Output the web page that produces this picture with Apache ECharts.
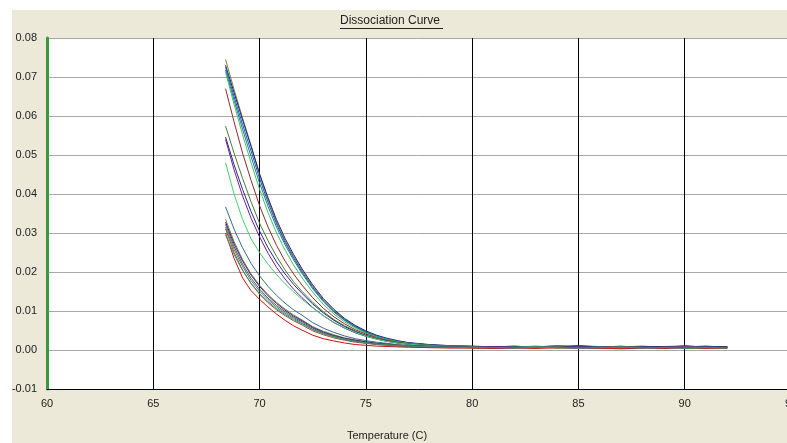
<!DOCTYPE html>
<html><head><meta charset="utf-8">
<script src="https://cdn.jsdelivr.net/npm/echarts@6/dist/echarts.min.js"></script>
<style>html,body{margin:0;padding:0;background:#fff}#c{width:787px;height:443px}</style>
</head><body><div id="c"></div>
<script>
const temps = [68.4,68.8,69.2,69.6,70.0,70.4,70.8,71.2,71.6,72.0,72.5,73.0,73.5,74.0,74.5,75.0,75.5,76.0,76.5,77,78,79,80,81,82,83,84,85,86,87,88,89,90,91,92];
const xTicks = [60,65,70,75,80,85,90,95];
const yTicks = [-0.01,0.00,0.01,0.02,0.03,0.04,0.05,0.06,0.07,0.08];

const h1 = [0.0745,0.0668,0.0595,0.0525,0.0450,0.0385,0.0328,0.0280,0.0240,0.0204,0.0163,0.0129,0.0101,0.0079,0.0061,0.0047,0.0036,0.0028,0.0022,0.0018,0.0013,0.0011,0.0009,0.0009,0.0008,0.0010,0.0007,0.0008,0.0009,0.0006,0.0008,0.0007,0.0009,0.0008,0.0006];
const h2 = [0.0730,0.0660,0.0590,0.0522,0.0452,0.0390,0.0334,0.0286,0.0245,0.0208,0.0167,0.0132,0.0104,0.0081,0.0063,0.0049,0.0038,0.0030,0.0024,0.0019,0.0014,0.0011,0.0010,0.0008,0.0010,0.0007,0.0009,0.0011,0.0008,0.0007,0.0009,0.0006,0.0008,0.0010,0.0007];
const h3 = [0.0725,0.0650,0.0578,0.0510,0.0440,0.0378,0.0323,0.0276,0.0236,0.0200,0.0160,0.0126,0.0099,0.0077,0.0060,0.0046,0.0036,0.0028,0.0022,0.0018,0.0013,0.0010,0.0009,0.0007,0.0009,0.0008,0.0011,0.0008,0.0007,0.0010,0.0006,0.0009,0.0007,0.0009,0.0008];
const h4 = [0.0718,0.0640,0.0566,0.0496,0.0428,0.0368,0.0315,0.0270,0.0231,0.0196,0.0157,0.0124,0.0097,0.0076,0.0059,0.0045,0.0035,0.0027,0.0021,0.0017,0.0012,0.0010,0.0009,0.0008,0.0007,0.0009,0.0008,0.0010,0.0007,0.0008,0.0010,0.0007,0.0008,0.0007,0.0008];
const h5 = [0.0712,0.0630,0.0552,0.0480,0.0412,0.0352,0.0300,0.0256,0.0218,0.0185,0.0148,0.0117,0.0092,0.0072,0.0056,0.0043,0.0034,0.0027,0.0021,0.0017,0.0012,0.0010,0.0009,0.0007,0.0006,0.0008,0.0010,0.0006,0.0009,0.0007,0.0005,0.0008,0.0006,0.0008,0.0007];
const h6 = [0.0670,0.0585,0.0505,0.0435,0.0370,0.0315,0.0268,0.0228,0.0195,0.0166,0.0134,0.0107,0.0085,0.0067,0.0052,0.0041,0.0032,0.0025,0.0020,0.0016,0.0012,0.0010,0.0008,0.0006,0.0008,0.0007,0.0006,0.0009,0.0006,0.0004,0.0007,0.0008,0.0005,0.0007,0.0006];
const m1 = [0.0574,0.0505,0.0440,0.0380,0.0325,0.0280,0.0240,0.0205,0.0175,0.0150,0.0122,0.0098,0.0078,0.0062,0.0049,0.0038,0.0030,0.0024,0.0019,0.0016,0.0012,0.0010,0.0009,0.0008,0.0007,0.0006,0.0009,0.0007,0.0008,0.0006,0.0009,0.0005,0.0007,0.0006,0.0007];
const m2 = [0.0546,0.0475,0.0412,0.0355,0.0305,0.0262,0.0226,0.0195,0.0168,0.0145,0.0118,0.0095,0.0076,0.0060,0.0047,0.0037,0.0029,0.0023,0.0018,0.0015,0.0011,0.0009,0.0008,0.0007,0.0009,0.0008,0.0007,0.0010,0.0009,0.0008,0.0007,0.0009,0.0010,0.0008,0.0007];
const m3 = [0.0540,0.0462,0.0395,0.0338,0.0290,0.0248,0.0212,0.0182,0.0156,0.0134,0.0109,0.0088,0.0070,0.0056,0.0044,0.0035,0.0028,0.0022,0.0018,0.0015,0.0011,0.0009,0.0008,0.0009,0.0007,0.0008,0.0010,0.0008,0.0006,0.0009,0.0008,0.0006,0.0011,0.0007,0.0008];
const m4 = [0.0480,0.0400,0.0335,0.0285,0.0250,0.0220,0.0193,0.0170,0.0149,0.0130,0.0108,0.0088,0.0071,0.0057,0.0045,0.0036,0.0028,0.0022,0.0018,0.0015,0.0011,0.0009,0.0008,0.0006,0.0008,0.0009,0.0006,0.0007,0.0008,0.0005,0.0006,0.0007,0.0005,0.0006,0.0005];
const l1 = [0.0367,0.0310,0.0262,0.0222,0.0190,0.0163,0.0140,0.0120,0.0103,0.0089,0.0070,0.0056,0.0045,0.0036,0.0029,0.0024,0.0020,0.0017,0.0014,0.0012,0.0010,0.0008,0.0007,0.0007,0.0006,0.0008,0.0007,0.0006,0.0008,0.0007,0.0006,0.0008,0.0007,0.0009,0.0006];
const l2 = [0.0335,0.0278,0.0232,0.0195,0.0166,0.0142,0.0122,0.0105,0.0090,0.0077,0.0060,0.0048,0.0039,0.0031,0.0026,0.0021,0.0018,0.0015,0.0013,0.0011,0.0009,0.0008,0.0007,0.0006,0.0007,0.0005,0.0008,0.0006,0.0007,0.0009,0.0006,0.0005,0.0008,0.0006,0.0007];
const l3 = [0.0328,0.0272,0.0228,0.0192,0.0163,0.0139,0.0119,0.0102,0.0087,0.0075,0.0058,0.0046,0.0037,0.0030,0.0025,0.0021,0.0017,0.0015,0.0012,0.0011,0.0009,0.0008,0.0007,0.0007,0.0008,0.0006,0.0007,0.0009,0.0007,0.0008,0.0007,0.0009,0.0006,0.0008,0.0008];
const l4 = [0.0322,0.0265,0.0220,0.0184,0.0156,0.0133,0.0114,0.0098,0.0084,0.0072,0.0056,0.0044,0.0035,0.0028,0.0023,0.0019,0.0016,0.0014,0.0011,0.0010,0.0008,0.0007,0.0006,0.0006,0.0005,0.0007,0.0006,0.0008,0.0005,0.0007,0.0006,0.0007,0.0008,0.0006,0.0007];
const l5 = [0.0315,0.0258,0.0214,0.0178,0.0151,0.0129,0.0110,0.0094,0.0081,0.0069,0.0053,0.0042,0.0034,0.0027,0.0022,0.0018,0.0015,0.0013,0.0011,0.0010,0.0008,0.0007,0.0006,0.0005,0.0007,0.0006,0.0008,0.0005,0.0006,0.0008,0.0007,0.0005,0.0006,0.0007,0.0005];
const l6 = [0.0310,0.0250,0.0205,0.0170,0.0143,0.0121,0.0103,0.0088,0.0075,0.0064,0.0049,0.0039,0.0031,0.0025,0.0020,0.0017,0.0014,0.0012,0.0010,0.0009,0.0007,0.0006,0.0006,0.0005,0.0006,0.0007,0.0005,0.0006,0.0004,0.0006,0.0005,0.0007,0.0006,0.0005,0.0006];
const l7 = [0.0300,0.0235,0.0185,0.0152,0.0130,0.0110,0.0092,0.0076,0.0062,0.0051,0.0038,0.0029,0.0023,0.0018,0.0014,0.0012,0.0010,0.0009,0.0008,0.0007,0.0006,0.0005,0.0005,0.0004,0.0005,0.0004,0.0006,0.0004,0.0005,0.0003,0.0005,0.0004,0.0005,0.0004,0.0005];
const l8 = [0.0295,0.0245,0.0204,0.0171,0.0145,0.0124,0.0106,0.0091,0.0078,0.0067,0.0052,0.0042,0.0034,0.0027,0.0022,0.0018,0.0015,0.0013,0.0011,0.0010,0.0008,0.0007,0.0006,0.0006,0.0005,0.0007,0.0006,0.0004,0.0006,0.0007,0.0005,0.0006,0.0004,0.0006,0.0005];

const curves = [
  {name:'h1', values:h1, color:'#8a7a20'},
  {name:'h2', values:h2, color:'#1a237e'},
  {name:'h3', values:h3, color:'#1f4fd0'},
  {name:'h4', values:h4, color:'#1d7f7f'},
  {name:'h5', values:h5, color:'#3ec46a'},
  {name:'h6', values:h6, color:'#8e2a2a'},
  {name:'m1', values:m1, color:'#4f7a35'},
  {name:'m2', values:m2, color:'#2a2a8c'},
  {name:'m3', values:m3, color:'#6a1f9a'},
  {name:'m4', values:m4, color:'#45d06e'},
  {name:'l1', values:l1, color:'#2f6f8f'},
  {name:'l2', values:l2, color:'#8b7d3a'},
  {name:'l3', values:l3, color:'#23307a'},
  {name:'l4', values:l4, color:'#7a3a9a'},
  {name:'l5', values:l5, color:'#2f9a4a'},
  {name:'l6', values:l6, color:'#a0522d'},
  {name:'l7', values:l7, color:'#d01010'},
  {name:'l8', values:l8, color:'#3a8f7f'}
];

const FONT = 'Liberation Sans';
const chart = echarts.init(document.getElementById('c'), null, {renderer:'canvas'});
chart.setOption({
  animation: false,
  backgroundColor: '#ece9d8',
  title: [
    {text:'Dissociation Curve', left:340, top:15, padding:0,
     textStyle:{fontFamily:FONT, fontSize:12, fontWeight:'normal', color:'#222'}},
    {text:'Temperature (C)', left:347, top:430, padding:0,
     textStyle:{fontFamily:FONT, fontSize:11, fontWeight:'normal', color:'#222'}}
  ],
  graphic: [
    {type:'rect', left:0, top:0, shape:{width:787, height:10}, style:{fill:'#ffffff'}, silent:true},
    {type:'rect', left:0, top:0, shape:{width:12, height:443}, style:{fill:'#ffffff'}, silent:true},
    {type:'line', shape:{x1:340, y1:28.5, x2:443, y2:28.5}, style:{stroke:'#222', lineWidth:1}, silent:true}
  ],
  grid: {left:47, top:38, width:744, height:351, show:true, backgroundColor:'#ffffff', borderWidth:0,
         containLabel:false, outerBoundsMode:'none'},
  xAxis: {
    type:'value', min:xTicks[0], max:xTicks[xTicks.length-1], interval:5,
    axisLine:{show:true, onZero:false, lineStyle:{color:'#000', width:1}},
    axisTick:{show:false},
    axisLabel:{fontFamily:FONT, fontSize:11, color:'#222', margin:9, showMaxLabel:true},
    splitLine:{show:true, lineStyle:{color:'#000', width:1}}
  },
  yAxis: {
    type:'value', min:yTicks[0], max:yTicks[yTicks.length-1], interval:0.01,
    axisLine:{show:true, onZero:false, lineStyle:{color:'#3a9a3a', width:3}},
    axisTick:{show:false},
    axisLabel:{fontFamily:FONT, fontSize:11, color:'#222', margin:10, formatter:v => v.toFixed(2)},
    splitLine:{show:true, lineStyle:{color:'#a8a8a8', width:1}}
  },
  series: curves.map(c => ({
    name:c.name, type:'line', showSymbol:false, symbol:'none',
    data: temps.map((t,i) => [t, c.values[i]]),
    lineStyle:{color:c.color, width:1}, itemStyle:{color:c.color},
    z:3
  }))
});
</script></body></html>
